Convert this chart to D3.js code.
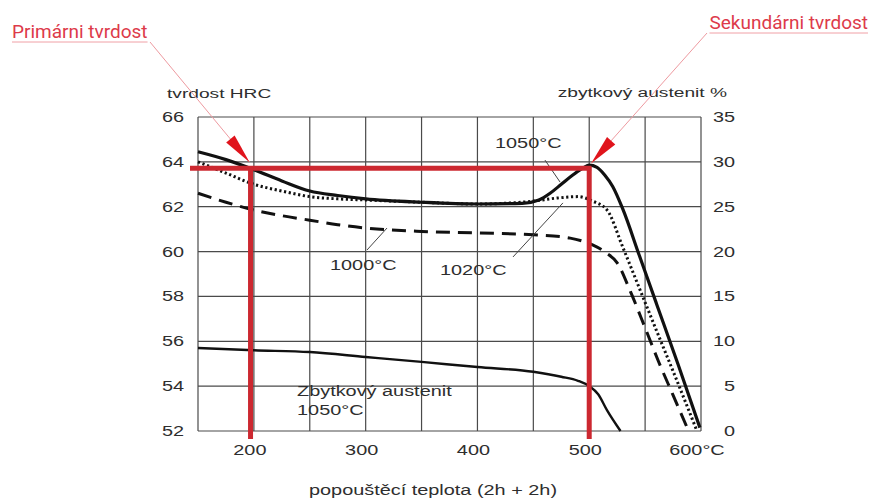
<!DOCTYPE html>
<html>
<head>
<meta charset="utf-8">
<script src="https://cdn.jsdelivr.net/npm/d3@7"></script>
<style>
  body { margin: 0; background: #fff; }
  svg { display: block; }
  .lbl { font-family: "Liberation Sans", Arial, sans-serif; fill: #2e2e2e; }
  .red { font-family: Roboto, sans-serif; fill: #dd3a4a; }
</style>
</head>
<body>
<svg id="chart" width="872" height="502"></svg>
<script>
// chart data
var xTicks = [200, 300, 400, 500, 600];
var xTickLabels = ["200", "300", "400", "500", "600°C"];
var xGrid = [150, 200, 250, 300, 350, 400, 450, 500, 550, 600];
var hrcTicks = [52, 54, 56, 58, 60, 62, 64, 66];
var austTicks = [0, 5, 10, 15, 20, 25, 30, 35];

// hardness 1050 °C (solid)
var t1050 = [150,175,200,225,250,275,300,350,400,440,455,465,475,485,495,500,507,514,521,530,545,560,580,599];
var h1050 = [64.45,64.1,63.65,63.15,62.7,62.5,62.35,62.2,62.12,62.15,62.3,62.6,63.0,63.4,63.75,63.85,63.75,63.4,62.9,61.9,59.8,57.7,54.9,52.15];
// hardness 1020 °C (dotted)
var t1020 = [150,175,200,225,250,275,300,350,400,450,470,490,503,516,530,545,560,578,596];
var h1020 = [64.0,63.5,63.0,62.7,62.45,62.35,62.3,62.2,62.12,62.25,62.38,62.45,62.25,61.85,60.2,58.35,56.5,54.3,52.05];
// hardness 1000 °C (dashed)
var t1000 = [150,175,200,225,250,275,300,350,400,450,483,495,503,515,525,537,550,562,575,588];
var h1000 = [62.6,62.2,61.85,61.6,61.4,61.2,61.05,60.9,60.83,60.75,60.6,60.45,60.3,59.95,59.5,58.2,56.6,55.1,53.6,52.1];
// retained austenite 1050 °C, right axis
var tAust = [150,200,250,300,350,400,450,475,490,500,508,516,528];
var aust = [9.25,9.0,8.8,8.25,7.7,7.13,6.6,6.05,5.6,5.0,4.1,2.3,0];

// red markers
var redLevel = 63.72;
var redTemps = [197, 500];

var svg = d3.select("#chart");
var SX = 1.42; // the picture is stretched sideways

var x = d3.scaleLinear().domain([150, 600]).range([198, 701]);
var yL = d3.scaleLinear().domain([52, 66]).range([431, 117]);
var yR = d3.scaleLinear().domain([0, 35]).range([431, 117]);

function label(g, px, py, txt, anchor, cls, size, dy) {
  return g.append("text")
    .attr("class", cls || "lbl")
    .attr("transform", "translate(" + px + "," + py + ") scale(" + SX + ",1)")
    .attr("text-anchor", anchor)
    .attr("dy", dy || 0)
    .style("font-size", (size || 14) + "px")
    .text(txt);
}

// grid
var grid = svg.append("g").attr("stroke", "#4a4a4a").attr("stroke-width", 1.2);
grid.selectAll(".gx").data(xGrid).enter().append("line")
  .attr("x1", d => x(d)).attr("x2", d => x(d))
  .attr("y1", yL(66)).attr("y2", yL(52));
grid.selectAll(".gy").data(hrcTicks).enter().append("line")
  .attr("x1", x(150)).attr("x2", x(600))
  .attr("y1", d => yL(d)).attr("y2", d => yL(d));

// tick labels
var labels = svg.append("g");
hrcTicks.forEach(d => label(labels, 184, yL(d), d, "end", "lbl", 14, ".36em"));
austTicks.forEach(d => label(labels, 735, yR(d), d, "end", "lbl", 14, ".36em"));
xTicks.forEach((d, i) => label(labels, x(d) - 4, 455, xTickLabels[i], "middle", "lbl", 14));

label(labels, 167, 98, "tvrdost HRC", "start", "lbl", 13.5);
label(labels, 727, 97, "zbytkový austenit %", "end", "lbl", 13.5);
label(labels, 433, 495, "popouštěcí teplota (2h + 2h)", "middle", "lbl", 14);

// curves
var lineL = d3.line().x(d => x(d[0])).y(d => yL(d[1])).curve(d3.curveMonotoneX);
var lineR = d3.line().x(d => x(d[0])).y(d => yR(d[1])).curve(d3.curveMonotoneX);

var curves = svg.append("g").attr("fill", "none").attr("stroke", "#111");
curves.append("path").datum(d3.zip(t1000, h1000)).attr("d", lineL)
  .attr("stroke-width", 3).attr("stroke-dasharray", "14,8");
curves.append("path").datum(d3.zip(t1020, h1020)).attr("d", lineL)
  .attr("stroke-width", 3).attr("stroke-dasharray", "2.2,2.6");
curves.append("path").datum(d3.zip(t1050, h1050)).attr("d", lineL)
  .attr("stroke-width", 3.2);
curves.append("path").datum(d3.zip(tAust, aust)).attr("d", lineR)
  .attr("stroke-width", 2.4);

// curve labels with leader lines
var leaders = [
  [[460.4, 64.08], [473.9, 63.1]],
  [[431.8, 59.76], [476.5, 62.17]],
  [[301.2, 60.07], [319.1, 61.05]]
];
svg.append("g").attr("stroke", "#444").attr("stroke-width", 1)
  .selectAll("line").data(leaders).enter().append("line")
  .attr("x1", d => x(d[0][0])).attr("y1", d => yL(d[0][1]))
  .attr("x2", d => x(d[1][0])).attr("y2", d => yL(d[1][1]));

label(labels, x(415.7), yL(64.62), "1050°C", "start", "lbl", 14);
label(labels, x(366.5), yL(58.96), "1020°C", "start", "lbl", 14);
label(labels, x(268.1), yL(59.18), "1000°C", "start", "lbl", 14);
label(labels, x(238.6), yL(53.56), "Zbytkový austenit", "start", "lbl", 14);
label(labels, x(238.6), yL(52.71), "1050°C", "start", "lbl", 14);

// red marker lines
var red = svg.append("g").attr("stroke", "#cc2830").attr("stroke-width", 5);
red.append("line")
  .attr("x1", x(150) - 8).attr("x2", x(redTemps[1]) + 2)
  .attr("y1", yL(redLevel)).attr("y2", yL(redLevel));
red.selectAll(".rv").data(redTemps).enter().append("line")
  .attr("x1", d => x(d)).attr("x2", d => x(d))
  .attr("y1", yL(redLevel) - 2).attr("y2", yL(52) + 8);

// red callouts
function callout(txt, tx, ty, anchor, sx, sy, ex, ey) {
  var t = svg.append("text").attr("class", "red").attr("x", tx).attr("y", ty)
    .attr("text-anchor", anchor).style("font-size", "19px").text(txt);
  var w = t.node().getComputedTextLength();
  var x0 = anchor == "end" ? tx - w : tx;
  svg.append("line").attr("x1", x0).attr("x2", x0 + w).attr("y1", ty + 4).attr("y2", ty + 4)
    .attr("stroke", "#f0a0a6").attr("stroke-width", 1);
  svg.append("line").attr("x1", sx).attr("y1", sy).attr("x2", ex).attr("y2", ey)
    .attr("stroke", "#ee9aa0").attr("stroke-width", 1);
  var a = Math.atan2(ey - sy, ex - sx), L = 30, W = 5.5;
  var bx = ex - L * Math.cos(a), by = ey - L * Math.sin(a);
  var pts = [[ex, ey],
    [bx + W * Math.sin(a), by - W * Math.cos(a)],
    [bx - W * Math.sin(a), by + W * Math.cos(a)]];
  svg.append("path").attr("d", "M" + pts.join("L") + "Z").attr("fill", "#e0141c");
}
callout("Primárni tvrdost", 12, 38, "start", 150, 42, x(redTemps[0]) - 1, yL(redLevel) - 6);
callout("Sekundárni tvrdost", 868, 29, "end", 707, 33, x(redTemps[1]) + 2, yL(redLevel) - 5);
</script>
</body>
</html>
